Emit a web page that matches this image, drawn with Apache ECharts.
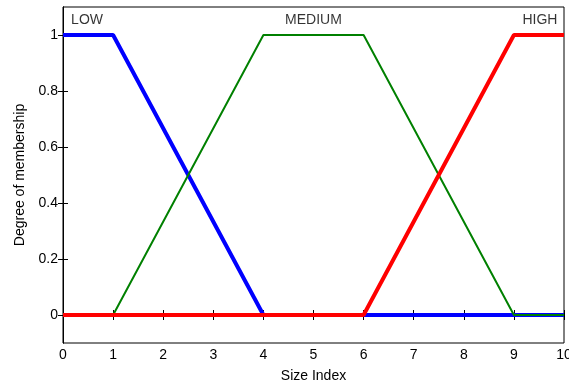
<!DOCTYPE html>
<html><head><meta charset="utf-8">
<script src="https://cdn.jsdelivr.net/npm/echarts@6/dist/echarts.min.js"></script>
<style>html,body{margin:0;padding:0;background:#fff}#c{width:569px;height:383px}</style>
</head><body><div id="c"></div>
<script>
const xLow = [0, 1, 4, 10];
const yLow = [1, 1, 0, 0];
const xMed = [0, 1, 4, 6, 9, 10];
const yMed = [0, 0, 1, 1, 0, 0];
const xHigh = [0, 6, 9, 10];
const yHigh = [0, 0, 1, 1];
const xTicks = [0,1,2,3,4,5,6,7,8,9,10];
const yTicks = [0, 0.2, 0.4, 0.6, 0.8, 1];
const yTickLabels = ['0','0.2','0.4','0.6','0.8','1'];
const setNames = ['LOW', 'MEDIUM', 'HIGH'];
const setLabelX = [0.48, 5.0, 9.52];
const setLabelY = [1.053, 1.053, 1.053];

const font = 'Liberation Sans, Arial, sans-serif';
const fs = 14;
const pair = (xs, ys) => xs.map((x, i) => [x, ys[i]]);

const chart = echarts.init(document.getElementById('c'));
chart.setOption({
  animation: false,
  grid: {left: 63, right: 5, top: 7, bottom: 40, show: true, borderColor: '#000', borderWidth: 1,
         outerBoundsMode: 'none', containLabel: false},
  xAxis: [{
    type: 'value', min: 0, max: 10, interval: 1,
    name: 'Size Index', nameLocation: 'middle', nameGap: 26,
    nameTextStyle: {color: '#000', fontSize: fs, fontFamily: font},
    axisLine: {show: true, lineStyle: {color: '#000'}},
    axisTick: {show: true, inside: true, length: 5, lineStyle: {color: '#000'}},
    axisLabel: {color: '#000', fontSize: fs, fontFamily: font, margin: 5},
    splitLine: {show: false}
  }, {
    type: 'value', position: 'top', min: 0, max: 10, interval: 1,
    axisLine: {show: true, lineStyle: {color: '#000'}},
    axisTick: {show: true, inside: true, length: 5, lineStyle: {color: '#000'}},
    axisLabel: {show: false}, splitLine: {show: false}
  }],
  yAxis: [{
    type: 'value', min: -0.1, max: 1.1,
    name: 'Degree of membership', nameLocation: 'middle', nameGap: 36, nameRotate: 90,
    nameTextStyle: {color: '#000', fontSize: fs, fontFamily: font},
    axisLine: {show: true, lineStyle: {color: '#000'}},
    axisTick: {show: true, inside: true, length: 5, customValues: yTicks, lineStyle: {color: '#000'}},
    axisLabel: {color: '#000', fontSize: fs, fontFamily: font, margin: 5,
      customValues: yTicks, formatter: v => yTickLabels[yTicks.findIndex(t => Math.abs(t - v) < 1e-9)]},
    splitLine: {show: false}
  }, {
    type: 'value', position: 'right', min: -0.1, max: 1.1,
    axisLine: {show: true, lineStyle: {color: '#000'}},
    axisTick: {show: true, inside: true, length: 5, customValues: yTicks, lineStyle: {color: '#000'}},
    axisLabel: {show: false}, splitLine: {show: false}
  }],
  series: [
    {type: 'line', name: 'LOW', data: pair(xLow, yLow), symbol: 'none', z: 2,
     lineStyle: {color: '#0000ff', width: 4}},
    {type: 'line', name: 'MEDIUM', data: pair(xMed, yMed), symbol: 'none', z: 3,
     lineStyle: {color: '#008000', width: 2}},
    {type: 'line', name: 'HIGH', data: pair(xHigh, yHigh), symbol: 'none', z: 4,
     lineStyle: {color: '#ff0000', width: 4}},
    {type: 'scatter', symbolSize: 0, z: 5,
     data: setNames.map((n, i) => ({value: [setLabelX[i], setLabelY[i]], name: n})),
     label: {show: true, position: 'inside', formatter: p => p.name, color: '#000', fontSize: fs, fontFamily: font}}
  ]
});
</script></body></html>
